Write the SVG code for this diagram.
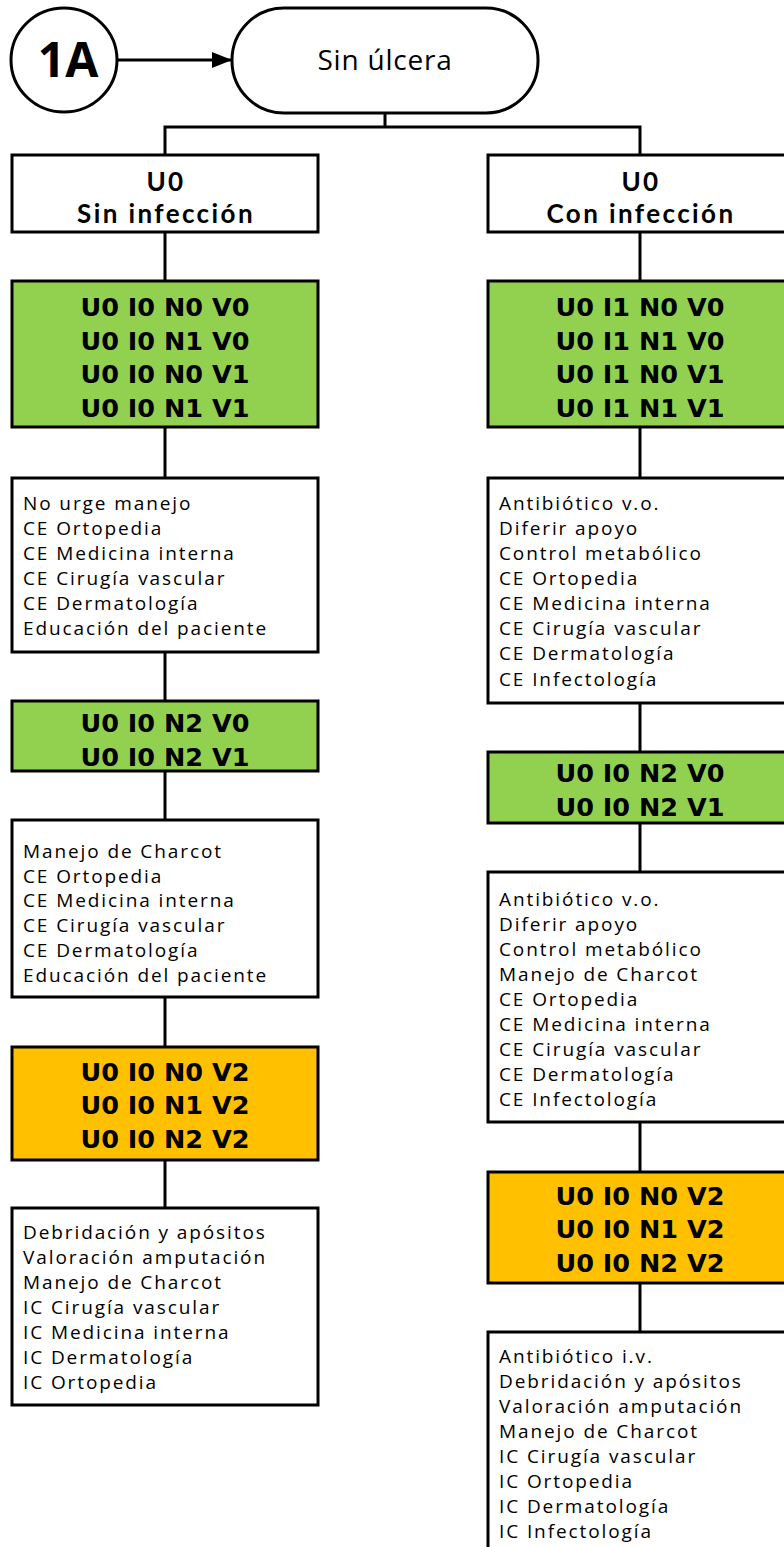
<svg xmlns="http://www.w3.org/2000/svg" width="784" height="1547" viewBox="0 0 784 1547">
<defs>
<marker id="arr" markerWidth="20" markerHeight="16" refX="19" refY="8" orient="auto" markerUnits="userSpaceOnUse">
<path d="M0,0 L20,8 L0,16 Z" fill="#000"/>
</marker>
<style>
.bx{stroke:#000;stroke-width:3;}
.w{fill:#fff;}
.g{fill:#92D050;}
.o{fill:#FFC000;}
.c{stroke:#000;stroke-width:3;fill:none;}
.b{font-family:"DejaVu Sans",sans-serif;font-weight:bold;font-size:25.5px;text-anchor:middle;fill:#000;}
.h{font-family:Lato,"Open Sans",sans-serif;font-weight:bold;font-size:26px;letter-spacing:2.4px;text-anchor:middle;fill:#000;}
.l{font-family:"Open Sans","Noto Sans",sans-serif;font-size:19px;letter-spacing:1.9px;fill:#000;}
</style>
</defs>
<rect width="784" height="1547" fill="#fff"/>
<g id="connectors">
<line class="c" x1="118" y1="60" x2="231" y2="60" marker-end="url(#arr)"/>
<path class="c" d="M385,113 V127 M165,155 V127 H640 V155"/>
<line class="c" x1="165" y1="232" x2="165" y2="281"/>
<line class="c" x1="165" y1="427" x2="165" y2="478"/>
<line class="c" x1="165" y1="652" x2="165" y2="701"/>
<line class="c" x1="165" y1="771" x2="165" y2="820"/>
<line class="c" x1="165" y1="997" x2="165" y2="1047"/>
<line class="c" x1="165" y1="1160" x2="165" y2="1208"/>
<line class="c" x1="640" y1="232" x2="640" y2="281"/>
<line class="c" x1="640" y1="427" x2="640" y2="478"/>
<line class="c" x1="640" y1="703" x2="640" y2="752"/>
<line class="c" x1="640" y1="823" x2="640" y2="872"/>
<line class="c" x1="640" y1="1122" x2="640" y2="1172"/>
<line class="c" x1="640" y1="1283" x2="640" y2="1332"/>
</g>
<g id="n1A">
<ellipse class="bx w" cx="64" cy="60" rx="53" ry="52"/>
<text x="68" y="77" style="font-family:'Open Sans','Noto Sans',sans-serif;font-weight:bold;font-size:48px;text-anchor:middle;">1A</text>
</g>
<g id="sinUlcera">
<rect class="bx w" x="232" y="8" width="306" height="105" rx="52" ry="52"/>
<text x="385" y="70" style="font-family:'Open Sans','Noto Sans',sans-serif;font-size:28px;letter-spacing:0.8px;text-anchor:middle;">Sin úlcera</text>
</g>
<g id="hdrL">
<rect class="bx w" x="12" y="155" width="306" height="77"/>
<text class="h" x="166" y="191">U0</text>
<text class="h" x="166" y="223">Sin infección</text>
</g>
<g id="hdrR">
<rect class="bx w" x="488" y="155" width="306" height="77"/>
<text class="h" x="641" y="191">U0</text>
<text class="h" x="641" y="223">Con infección</text>
</g>
<g id="gL1">
<rect class="bx g" x="12" y="281" width="306" height="146"/>
<text class="b" x="165" y="316">U0 I0 N0 V0</text>
<text class="b" x="165" y="350">U0 I0 N1 V0</text>
<text class="b" x="165" y="383">U0 I0 N0 V1</text>
<text class="b" x="165" y="417">U0 I0 N1 V1</text>
</g>
<g id="wL1">
<rect class="bx w" x="12" y="478" width="306" height="174"/>
<text class="l" x="23" y="510">No urge manejo</text>
<text class="l" x="23" y="535">CE Ortopedia</text>
<text class="l" x="23" y="560">CE Medicina interna</text>
<text class="l" x="23" y="585">CE Cirugía vascular</text>
<text class="l" x="23" y="610">CE Dermatología</text>
<text class="l" x="23" y="635">Educación del paciente</text>
</g>
<g id="gL2">
<rect class="bx g" x="12" y="701" width="306" height="70"/>
<text class="b" x="165" y="732">U0 I0 N2 V0</text>
<text class="b" x="165" y="766">U0 I0 N2 V1</text>
</g>
<g id="wL2">
<rect class="bx w" x="12" y="820" width="306" height="177"/>
<text class="l" x="23" y="858">Manejo de Charcot</text>
<text class="l" x="23" y="883">CE Ortopedia</text>
<text class="l" x="23" y="907">CE Medicina interna</text>
<text class="l" x="23" y="932">CE Cirugía vascular</text>
<text class="l" x="23" y="957">CE Dermatología</text>
<text class="l" x="23" y="982">Educación del paciente</text>
</g>
<g id="oL">
<rect class="bx o" x="12" y="1047" width="306" height="113"/>
<text class="b" x="165" y="1081">U0 I0 N0 V2</text>
<text class="b" x="165" y="1114">U0 I0 N1 V2</text>
<text class="b" x="165" y="1148">U0 I0 N2 V2</text>
</g>
<g id="wL3">
<rect class="bx w" x="12" y="1208" width="306" height="197"/>
<text class="l" x="23" y="1239">Debridación y apósitos</text>
<text class="l" x="23" y="1264">Valoración amputación</text>
<text class="l" x="23" y="1289">Manejo de Charcot</text>
<text class="l" x="23" y="1314">IC Cirugía vascular</text>
<text class="l" x="23" y="1339">IC Medicina interna</text>
<text class="l" x="23" y="1364">IC Dermatología</text>
<text class="l" x="23" y="1389">IC Ortopedia</text>
</g>
<g id="gR1">
<rect class="bx g" x="488" y="281" width="306" height="146"/>
<text class="b" x="640" y="316">U0 I1 N0 V0</text>
<text class="b" x="640" y="350">U0 I1 N1 V0</text>
<text class="b" x="640" y="383">U0 I1 N0 V1</text>
<text class="b" x="640" y="417">U0 I1 N1 V1</text>
</g>
<g id="wR1">
<rect class="bx w" x="488" y="478" width="306" height="225"/>
<text class="l" x="499" y="510">Antibiótico v.o.</text>
<text class="l" x="499" y="535">Diferir apoyo</text>
<text class="l" x="499" y="560">Control metabólico</text>
<text class="l" x="499" y="585">CE Ortopedia</text>
<text class="l" x="499" y="610">CE Medicina interna</text>
<text class="l" x="499" y="635">CE Cirugía vascular</text>
<text class="l" x="499" y="660">CE Dermatología</text>
<text class="l" x="499" y="686">CE Infectología</text>
</g>
<g id="gR2">
<rect class="bx g" x="488" y="752" width="306" height="71"/>
<text class="b" x="640" y="782">U0 I0 N2 V0</text>
<text class="b" x="640" y="816">U0 I0 N2 V1</text>
</g>
<g id="wR2">
<rect class="bx w" x="488" y="872" width="306" height="250"/>
<text class="l" x="499" y="906">Antibiótico v.o.</text>
<text class="l" x="499" y="931">Diferir apoyo</text>
<text class="l" x="499" y="956">Control metabólico</text>
<text class="l" x="499" y="981">Manejo de Charcot</text>
<text class="l" x="499" y="1006">CE Ortopedia</text>
<text class="l" x="499" y="1031">CE Medicina interna</text>
<text class="l" x="499" y="1056">CE Cirugía vascular</text>
<text class="l" x="499" y="1081">CE Dermatología</text>
<text class="l" x="499" y="1106">CE Infectología</text>
</g>
<g id="oR">
<rect class="bx o" x="488" y="1172" width="306" height="111"/>
<text class="b" x="640" y="1205">U0 I0 N0 V2</text>
<text class="b" x="640" y="1238">U0 I0 N1 V2</text>
<text class="b" x="640" y="1272">U0 I0 N2 V2</text>
</g>
<g id="wR3">
<rect class="bx w" x="488" y="1332" width="306" height="230"/>
<text class="l" x="499" y="1363">Antibiótico i.v.</text>
<text class="l" x="499" y="1388">Debridación y apósitos</text>
<text class="l" x="499" y="1413">Valoración amputación</text>
<text class="l" x="499" y="1438">Manejo de Charcot</text>
<text class="l" x="499" y="1463">IC Cirugía vascular</text>
<text class="l" x="499" y="1488">IC Ortopedia</text>
<text class="l" x="499" y="1513">IC Dermatología</text>
<text class="l" x="499" y="1538">IC Infectología</text>
</g>
</svg>
